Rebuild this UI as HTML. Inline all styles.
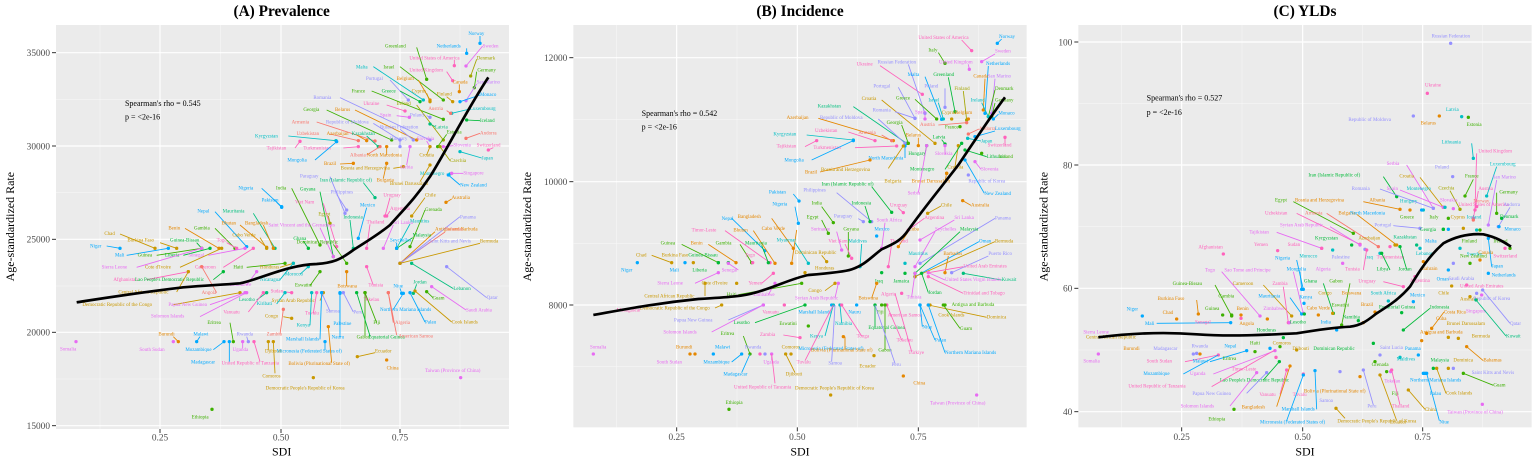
<!DOCTYPE html>
<html><head><meta charset="utf-8"><style>
html,body{margin:0;padding:0;background:#fff;}
svg{display:block;font-family:"Liberation Serif",serif;}
.lb text{font-size:15px;stroke:none;}
.lb path{fill:none;stroke-width:2.6;}
.lb circle{stroke:none;}
.c1{fill:#F8766D;stroke:#F8766D}.c2{fill:#E58700;stroke:#E58700}.c3{fill:#C99800;stroke:#C99800}
.c4{fill:#A3A500;stroke:#A3A500}.c5{fill:#3DB000;stroke:#3DB000}.c6{fill:#00BA38;stroke:#00BA38}
.c7{fill:#00BF7D;stroke:#00BF7D}.c8{fill:#00BFC4;stroke:#00BFC4}.c9{fill:#00A9FF;stroke:#00A9FF}
.c11{fill:#9590FF;stroke:#9590FF}.c12{fill:#C77CFF;stroke:#C77CFF}.c13{fill:#E76BF3;stroke:#E76BF3}
.c14{fill:#FF62BC;stroke:#FF62BC}
.tk{font-size:28px;fill:#4d4d4d;}
.ax{font-size:36px;fill:#000;}
.ti{font-size:46px;font-weight:bold;fill:#000;}
.sp{font-size:24px;fill:#000;}
.mj{stroke:#fff;stroke-width:3.5;}
.mn{stroke:#f7f7f7;stroke-width:1.8;}
.cv{fill:none;stroke:#000;stroke-width:8;stroke-linejoin:round;}
</style></head><body>
<svg width="1535" height="459" viewBox="0 0 1535 459" xmlns="http://www.w3.org/2000/svg">
<rect width="1535" height="459" fill="#fff"/>

<!-- PANEL A -->
<g transform="scale(0.33333)">
<rect x="168" y="75" width="1359" height="1212" fill="#ebebeb"/>
<g class="mn"><line x1="168" x2="1527" y1="298" y2="298"/><line x1="168" x2="1527" y1="578" y2="578"/><line x1="168" x2="1527" y1="858" y2="858"/><line x1="168" x2="1527" y1="1137" y2="1137"/>
<line y1="75" y2="1287" x1="300" x2="300"/><line y1="75" y2="1287" x1="662" x2="662"/><line y1="75" y2="1287" x1="1022" x2="1022"/><line y1="75" y2="1287" x1="1380" x2="1380"/></g>
<g class="mj"><line x1="168" x2="1527" y1="158" y2="158"/><line x1="168" x2="1527" y1="438" y2="438"/><line x1="168" x2="1527" y1="718" y2="718"/><line x1="168" x2="1527" y1="997" y2="997"/><line x1="168" x2="1527" y1="1277" y2="1277"/>
<line y1="75" y2="1287" x1="480" x2="480"/><line y1="75" y2="1287" x1="843" x2="843"/><line y1="75" y2="1287" x1="1200" x2="1200"/></g>
<g stroke="#333" stroke-width="3"><line x1="156" x2="168" y1="158" y2="158"/><line x1="156" x2="168" y1="438" y2="438"/><line x1="156" x2="168" y1="718" y2="718"/><line x1="156" x2="168" y1="997" y2="997"/><line x1="156" x2="168" y1="1277" y2="1277"/>
<line x1="480" x2="480" y1="1287" y2="1299"/><line x1="843" x2="843" y1="1287" y2="1299"/><line x1="1200" x2="1200" y1="1287" y2="1299"/></g>
<g class="tk" text-anchor="end"><text x="150" y="168">35000</text><text x="150" y="448">30000</text><text x="150" y="728">25000</text><text x="150" y="1007">20000</text><text x="150" y="1287">15000</text></g>
<g class="tk" text-anchor="middle"><text x="480" y="1322">0.25</text><text x="843" y="1322">0.50</text><text x="1200" y="1322">0.75</text></g>
<text class="ax" x="845" y="1366" text-anchor="middle">SDI</text>
<text class="ax" transform="translate(42,680) rotate(-90)" text-anchor="middle">Age-standardized Rate</text>
<text class="ti" x="845" y="48" text-anchor="middle">(A) Prevalence</text>
<text class="sp" x="375" y="318">Spearman's rho = 0.545</text>
<text class="sp" x="375" y="358">p = &lt;2e-16</text>
<g class="lb">
<g class="c9"><text x="1405" y="105">Norway</text><path d="M1440 108L1440 130"/><circle cx="1440" cy="130" r="5"/></g>
<g class="c9"><text x="1310" y="142">Netherlands</text><path d="M1400 145L1400 160"/><circle cx="1400" cy="160" r="5"/></g>
<g class="c13"><text x="1448" y="142">Sweden</text><path d="M1448 138L1398 198"/><circle cx="1398" cy="198" r="5"/></g>
<g class="c5"><text x="1155" y="142">Greenland</text><path d="M1250 142L1280 238"/><circle cx="1280" cy="238" r="5"/></g>
<g class="c14"><text x="1228" y="178">United States of America</text><path d="M1363 180L1363 197"/><circle cx="1363" cy="197" r="5"/></g>
<g class="c4"><text x="1430" y="178">Denmark</text><path d="M1430 178L1412 228"/><circle cx="1412" cy="228" r="5"/></g>
<g class="c8"><text x="1068" y="205">Malta</text><path d="M1120 200L1270 300"/><circle cx="1270" cy="300" r="5"/></g>
<g class="c5"><text x="1150" y="205">Israel</text><path d="M1200 200L1330 300"/><circle cx="1330" cy="300" r="5"/></g>
<g class="c14"><text x="1228" y="215">United Kingdom</text><path d="M1340 215L1358 242"/><circle cx="1358" cy="242" r="5"/></g>
<g class="c5"><text x="1432" y="215">Germany</text><path d="M1430 215L1423 263"/><circle cx="1423" cy="263" r="5"/></g>
<g class="c11"><text x="1098" y="240">Portugal</text><path d="M1170 240L1225 300"/><circle cx="1225" cy="300" r="5"/></g>
<g class="c2"><text x="1190" y="240">Belgium</text><path d="M1255 240L1290 300"/><circle cx="1290" cy="300" r="5"/></g>
<g class="c2"><text x="1358" y="250">Canada</text><path d="M1378 253L1378 275"/><circle cx="1378" cy="275" r="5"/></g>
<g class="c12"><text x="1430" y="250">San Marino</text><path d="M1430 252L1398 302"/><circle cx="1398" cy="302" r="5"/></g>
<g class="c5"><text x="1055" y="277">France</text><path d="M1115 273L1330 358"/><circle cx="1330" cy="358" r="5"/></g>
<g class="c6"><text x="1145" y="277">Greece</text><path d="M1200 273L1260 305"/><circle cx="1260" cy="305" r="5"/></g>
<g class="c3"><text x="1235" y="277">Cyprus</text><path d="M1280 280L1290 305"/><circle cx="1290" cy="305" r="5"/></g>
<g class="c3"><text x="1310" y="287">Finland</text><path d="M1340 290L1358 305"/><circle cx="1358" cy="305" r="5"/></g>
<g class="c9"><text x="1440" y="288">Monaco</text><path d="M1440 285L1380 305"/><circle cx="1380" cy="305" r="5"/></g>
<g class="c11"><text x="940" y="297">Romania</text><path d="M1020 293L1290 420"/><circle cx="1290" cy="420" r="5"/></g>
<g class="c14"><text x="1090" y="315">Ukraine</text><path d="M1160 315L1215 333"/><circle cx="1215" cy="333" r="5"/></g>
<g class="c4"><text x="1190" y="315">Ireland</text><path d="M1250 315L1330 420"/><circle cx="1330" cy="420" r="5"/></g>
<g class="c8"><text x="1410" y="330">Luxembourg</text><path d="M1410 327L1355 340"/><circle cx="1355" cy="340" r="5"/></g>
<g class="c5"><text x="910" y="333">Georgia</text><path d="M980 330L1175 420"/><circle cx="1175" cy="420" r="5"/></g>
<g class="c2"><text x="1005" y="333">Belarus</text><path d="M1065 330L1250 420"/><circle cx="1250" cy="420" r="5"/></g>
<g class="c13"><text x="1140" y="350">Spain</text><path d="M1190 347L1228 352"/><circle cx="1228" cy="352" r="5"/></g>
<g class="c11"><text x="1230" y="350">Poland</text><path d="M1280 347L1290 352"/><circle cx="1290" cy="352" r="5"/></g>
<g class="c1"><text x="1285" y="330">Austria</text><path d="M1340 332L1352 340"/><circle cx="1352" cy="340" r="5"/></g>
<g class="c6"><text x="1440" y="366">Iceland</text><path d="M1440 362L1400 360"/><circle cx="1400" cy="360" r="5"/></g>
<g class="c1"><text x="875" y="370">Armenia</text><path d="M950 366L1125 423"/><circle cx="1125" cy="423" r="5"/></g>
<g class="c11"><text x="978" y="370">Republic of Moldova</text><path d="M1120 370L1200 420"/><circle cx="1200" cy="420" r="5"/></g>
<g class="c11"><text x="1140" y="385">Russian Federation</text><path d="M1200 388L1240 420"/><circle cx="1240" cy="420" r="5"/></g>
<g class="c7"><text x="1305" y="385">Latvia</text><path d="M1305 380L1290 372"/><circle cx="1290" cy="372" r="5"/></g>
<g class="c8"><text x="765" y="412">Kyrgyzstan</text><path d="M865 408L1008 422"/><circle cx="1008" cy="422" r="5"/></g>
<g class="c1"><text x="890" y="405">Uzbekistan</text><path d="M990 402L1075 422"/><circle cx="1075" cy="422" r="5"/></g>
<g class="c2"><text x="980" y="405">Azerbaijan</text><path d="M1070 405L1100 422"/><circle cx="1100" cy="422" r="5"/></g>
<g class="c7"><text x="1055" y="405">Kazakhstan</text><path d="M1100 408L1135 440"/><circle cx="1135" cy="440" r="5"/></g>
<g class="c11"><text x="1170" y="420">Hungary</text><path d="M1200 423L1200 440"/><circle cx="1200" cy="440" r="5"/></g>
<g class="c13"><text x="1250" y="420">Slovakia</text><path d="M1280 423L1290 440"/><circle cx="1290" cy="440" r="5"/></g>
<g class="c5"><text x="1340" y="400">Estonia</text><path d="M1340 403L1313 440"/><circle cx="1313" cy="440" r="5"/></g>
<g class="c1"><text x="1440" y="403">Andorra</text><path d="M1440 400L1398 415"/><circle cx="1398" cy="415" r="5"/></g>
<g class="c14"><text x="800" y="448">Tajikistan</text><path d="M885 444L900 424"/><circle cx="900" cy="424" r="5"/></g>
<g class="c14"><text x="910" y="448">Turkmenistan</text><path d="M1030 444L1075 440"/><circle cx="1075" cy="440" r="5"/></g>
<g class="c13"><text x="1360" y="440">Slovenia</text><path d="M1360 437L1330 440"/><circle cx="1330" cy="440" r="5"/></g>
<g class="c14"><text x="1430" y="440">Switzerland</text><path d="M1480 443L1465 450"/><circle cx="1465" cy="450" r="5"/></g>
<g class="c9"><text x="862" y="485">Mongolia</text><path d="M945 480L1010 425"/><circle cx="1010" cy="425" r="5"/></g>
<g class="c1"><text x="1050" y="469">Albania</text><path d="M1100 465L1140 440"/><circle cx="1140" cy="440" r="5"/></g>
<g class="c2"><text x="1100" y="469">North Macedonia</text><path d="M1160 465L1160 440"/><circle cx="1160" cy="440" r="5"/></g>
<g class="c3"><text x="1258" y="469">Croatia</text><path d="M1280 465L1290 440"/><circle cx="1290" cy="440" r="5"/></g>
<g class="c4"><text x="1350" y="486">Czechia</text><path d="M1350 482L1320 440"/><circle cx="1320" cy="440" r="5"/></g>
<g class="c8"><text x="1445" y="478">Japan</text><path d="M1445 474L1380 455"/><circle cx="1380" cy="455" r="5"/></g>
<g class="c2"><text x="972" y="495">Brazil</text><path d="M1020 492L1060 490"/><circle cx="1060" cy="490" r="5"/></g>
<g class="c3"><text x="1022" y="508">Bosnia and Herzegovina</text><path d="M1180 505L1210 500"/><circle cx="1210" cy="500" r="5"/></g>
<g class="c13"><text x="1200" y="505">Serbia</text><path d="M1220 495L1230 440"/><circle cx="1230" cy="440" r="5"/></g>
<g class="c11"><text x="900" y="532">Paraguay</text><path d="M990 530L1035 640"/><circle cx="1035" cy="640" r="5"/></g>
<g class="c8"><text x="1260" y="525">Montenegro</text><path d="M1340 522L1350 522"/><circle cx="1350" cy="522" r="5"/></g>
<g class="c13"><text x="1390" y="523">Singapore</text><path d="M1390 520L1355 520"/><circle cx="1355" cy="520" r="5"/></g>
<g class="c7"><text x="960" y="545">Iran (Islamic Republic of)</text><path d="M1090 548L1125 593"/><circle cx="1125" cy="593" r="5"/></g>
<g class="c2"><text x="1130" y="545">Bulgaria</text><path d="M1150 535L1160 490"/><circle cx="1160" cy="490" r="5"/></g>
<g class="c3"><text x="1170" y="555">Brunei Darussalam</text><path d="M1260 545L1290 495"/><circle cx="1290" cy="495" r="5"/></g>
<g class="c9"><text x="1380" y="560">New Zealand</text><path d="M1380 555L1345 525"/><circle cx="1345" cy="525" r="5"/></g>
<g class="c9"><text x="715" y="568">Nigeria</text><path d="M785 565L845 620"/><circle cx="845" cy="620" r="5"/></g>
<g class="c5"><text x="828" y="568">India</text><path d="M875 565L960 735"/><circle cx="960" cy="735" r="5"/></g>
<g class="c6"><text x="900" y="572">Guyana</text><path d="M960 575L1000 770"/><circle cx="1000" cy="770" r="5"/></g>
<g class="c11"><text x="992" y="580">Philippines</text><path d="M1010 583L1040 630"/><circle cx="1040" cy="630" r="5"/></g>
<g class="c14"><text x="1150" y="590">Uruguay</text><path d="M1170 593L1155 648"/><circle cx="1155" cy="648" r="5"/></g>
<g class="c3"><text x="1275" y="590">Chile</text><path d="M1275 593L1235 648"/><circle cx="1235" cy="648" r="5"/></g>
<g class="c2"><text x="1355" y="597">Australia</text><path d="M1355 597L1338 607"/><circle cx="1338" cy="607" r="5"/></g>
<g class="c9"><text x="785" y="605">Pakistan</text><path d="M830 607L845 622"/><circle cx="845" cy="622" r="5"/></g>
<g class="c14"><text x="885" y="610">Viet Nam</text><path d="M970 610L1010 740"/><circle cx="1010" cy="740" r="5"/></g>
<g class="c9"><text x="1080" y="620">Mexico</text><path d="M1100 623L1075 715"/><circle cx="1075" cy="715" r="5"/></g>
<g class="c9"><text x="592" y="638">Nepal</text><path d="M645 635L740 740"/><circle cx="740" cy="740" r="5"/></g>
<g class="c7"><text x="668" y="638">Mauritania</text><path d="M760 640L825 745"/><circle cx="825" cy="745" r="5"/></g>
<g class="c4"><text x="955" y="646">Egypt</text><path d="M985 648L990 670"/><circle cx="990" cy="670" r="5"/></g>
<g class="c7"><text x="1030" y="656">Indonesia</text><path d="M1050 660L1060 745"/><circle cx="1060" cy="745" r="5"/></g>
<g class="c14"><text x="1170" y="630">Argentina</text><path d="M1170 633L1160 648"/><circle cx="1160" cy="648" r="5"/></g>
<g class="c5"><text x="1275" y="633">Grenada</text><path d="M1275 630L1230 740"/><circle cx="1230" cy="740" r="5"/></g>
<g class="c11"><text x="1380" y="655">Panama</text><path d="M1380 650L1200 790"/><circle cx="1200" cy="790" r="5"/></g>
<g class="c2"><text x="665" y="673">Bhutan</text><path d="M720 675L800 742"/><circle cx="800" cy="742" r="5"/></g>
<g class="c2"><text x="735" y="673">Bangladesh</text><path d="M790 675L820 745"/><circle cx="820" cy="745" r="5"/></g>
<g class="c13"><text x="805" y="680">Saint Vincent and the Grenadines</text><path d="M960 683L1000 770"/><circle cx="1000" cy="770" r="5"/></g>
<g class="c14"><text x="1100" y="670">Thailand</text><path d="M1110 673L1100 745"/><circle cx="1100" cy="745" r="5"/></g>
<g class="c13"><text x="1180" y="672">Sri Lanka</text><path d="M1180 675L1150 745"/><circle cx="1150" cy="745" r="5"/></g>
<g class="c8"><text x="1230" y="668">Mauritius</text><path d="M1230 672L1190 745"/><circle cx="1190" cy="745" r="5"/></g>
<g class="c2"><text x="505" y="688">Benin</text><path d="M555 685L657 745"/><circle cx="657" cy="745" r="5"/></g>
<g class="c5"><text x="582" y="688">Gambia</text><path d="M645 685L705 745"/><circle cx="705" cy="745" r="5"/></g>
<g class="c3"><text x="313" y="705">Chad</text><path d="M360 702L465 745"/><circle cx="465" cy="745" r="5"/></g>
<g class="c2"><text x="1305" y="692">Antigua and Barbuda</text><path d="M1305 695L1200 790"/><circle cx="1200" cy="790" r="5"/></g>
<g class="c3"><text x="382" y="725">Burkina Faso</text><path d="M480 728L530 745"/><circle cx="530" cy="745" r="5"/></g>
<g class="c6"><text x="510" y="725">Guinea-Bissau</text><path d="M590 728L605 745"/><circle cx="605" cy="745" r="5"/></g>
<g class="c14"><text x="650" y="725">Togo</text><path d="M680 728L710 745"/><circle cx="710" cy="745" r="5"/></g>
<g class="c3"><text x="697" y="710">Cabo Verde</text><path d="M780 713L800 745"/><circle cx="800" cy="745" r="5"/></g>
<g class="c6"><text x="880" y="720">Ghana</text><path d="M910 723L925 745"/><circle cx="925" cy="745" r="5"/></g>
<g class="c6"><text x="1238" y="710">Malaysia</text><path d="M1238 713L1190 745"/><circle cx="1190" cy="745" r="5"/></g>
<g class="c1"><text x="1335" y="692">Bahamas</text><path d="M1335 696L1200 790"/><circle cx="1200" cy="790" r="5"/></g>
<g class="c11"><text x="1285" y="728">Saint Kitts and Nevis</text><path d="M1285 730L1200 790"/><circle cx="1200" cy="790" r="5"/></g>
<g class="c3"><text x="1440" y="728">Bermuda</text><path d="M1440 730L1200 790"/><circle cx="1200" cy="790" r="5"/></g>
<g class="c9"><text x="270" y="742">Niger</text><path d="M320 738L360 745"/><circle cx="360" cy="745" r="5"/></g>
<g class="c5"><text x="890" y="730">Dominican Republic</text><path d="M1000 733L1040 790"/><circle cx="1040" cy="790" r="5"/></g>
<g class="c9"><text x="1170" y="725">Seychelles</text><path d="M1190 728L1190 745"/><circle cx="1190" cy="745" r="5"/></g>
<g class="c9"><text x="345" y="770">Mali</text><path d="M380 766L505 745"/><circle cx="505" cy="745" r="5"/></g>
<g class="c5"><text x="413" y="770">Guinea</text><path d="M470 766L605 745"/><circle cx="605" cy="745" r="5"/></g>
<g class="c6"><text x="495" y="770">Liberia</text><path d="M550 766L630 745"/><circle cx="630" cy="745" r="5"/></g>
<g class="c13"><text x="565" y="770">Senegal</text><path d="M625 766L735 745"/><circle cx="735" cy="745" r="5"/></g>
<g class="c13"><text x="305" y="806">Sierra Leone</text><path d="M410 802L605 745"/><circle cx="605" cy="745" r="5"/></g>
<g class="c3"><text x="435" y="806">Cote d'Ivoire</text><path d="M540 802L665 745"/><circle cx="665" cy="745" r="5"/></g>
<g class="c14"><text x="585" y="806">Cameroon</text><path d="M670 802L760 745"/><circle cx="760" cy="745" r="5"/></g>
<g class="c5"><text x="700" y="806">Haiti</text><path d="M740 802L855 790"/><circle cx="855" cy="790" r="5"/></g>
<g class="c3"><text x="780" y="806">Honduras</text><path d="M840 802L880 790"/><circle cx="880" cy="790" r="5"/></g>
<g class="c14"><text x="340" y="843">Afghanistan</text><path d="M440 839L565 815"/><circle cx="565" cy="815" r="5"/></g>
<g class="c6"><text x="405" y="843">Lao People's Democratic Republic</text><path d="M640 839L670 815"/><circle cx="670" cy="815" r="5"/></g>
<g class="c8"><text x="780" y="843">Nicaragua</text><path d="M840 839L880 790"/><circle cx="880" cy="790" r="5"/></g>
<g class="c8"><text x="855" y="827">Morocco</text><path d="M900 823L925 800"/><circle cx="925" cy="800" r="5"/></g>
<g class="c3"><text x="355" y="880">Central African Republic</text><path d="M530 876L565 815"/><circle cx="565" cy="815" r="5"/></g>
<g class="c13"><text x="690" y="858">Zimbabwe</text><path d="M740 855L770 815"/><circle cx="770" cy="815" r="5"/></g>
<g class="c1"><text x="605" y="882">Angola</text><path d="M650 878L605 800"/><circle cx="605" cy="800" r="5"/></g>
<g class="c5"><text x="885" y="860">Eswatini</text><path d="M930 857L960 815"/><circle cx="960" cy="815" r="5"/></g>
<g class="c2"><text x="1012" y="862">Botswana</text><path d="M1040 858L1040 815"/><circle cx="1040" cy="815" r="5"/></g>
<g class="c14"><text x="1105" y="860">Tunisia</text><path d="M1120 856L1100 800"/><circle cx="1100" cy="800" r="5"/></g>
<g class="c9"><text x="1180" y="862">Niue</text><path d="M1200 865L1205 880"/><circle cx="1205" cy="880" r="5"/></g>
<g class="c7"><text x="1240" y="850">Jordan</text><path d="M1250 853L1240 880"/><circle cx="1240" cy="880" r="5"/></g>
<g class="c7"><text x="1360" y="870">Lebanon</text><path d="M1360 866L1235 790"/><circle cx="1235" cy="790" r="5"/></g>
<g class="c11"><text x="1460" y="897">Qatar</text><path d="M1460 893L1340 800"/><circle cx="1340" cy="800" r="5"/></g>
<g class="c3"><text x="247" y="918">Democratic Republic of the Congo</text><path d="M520 914L720 878"/><circle cx="720" cy="878" r="5"/></g>
<g class="c13"><text x="505" y="918">Papua New Guinea</text><path d="M630 914L735 878"/><circle cx="735" cy="878" r="5"/></g>
<g class="c7"><text x="717" y="903">Lesotho</text><path d="M770 900L800 878"/><circle cx="800" cy="878" r="5"/></g>
<g class="c14"><text x="812" y="878">Sudan</text><path d="M850 875L875 878"/><circle cx="875" cy="878" r="5"/></g>
<g class="c3"><text x="815" y="906">Syrian Arab Republic</text><path d="M960 902L970 878"/><circle cx="970" cy="878" r="5"/></g>
<g class="c14"><text x="1090" y="903">Tokelau</text><path d="M1100 900L1095 878"/><circle cx="1095" cy="878" r="5"/></g>
<g class="c9"><text x="1140" y="933">Northern Mariana Islands</text><path d="M1180 928L1210 880"/><circle cx="1210" cy="880" r="5"/></g>
<g class="c5"><text x="1297" y="898">Guam</text><path d="M1300 894L1280 875"/><circle cx="1280" cy="875" r="5"/></g>
<g class="c13"><text x="1398" y="935">Saudi Arabia</text><path d="M1398 930L1295 860"/><circle cx="1295" cy="860" r="5"/></g>
<g class="c13"><text x="453" y="953">Solomon Islands</text><path d="M600 950L740 878"/><circle cx="740" cy="878" r="5"/></g>
<g class="c14"><text x="670" y="940">Vanuatu</text><path d="M745 936L790 878"/><circle cx="790" cy="878" r="5"/></g>
<g class="c8"><text x="770" y="915">Kiribati</text><path d="M830 912L855 878"/><circle cx="855" cy="878" r="5"/></g>
<g class="c14"><text x="915" y="944">Tuvalu</text><path d="M940 940L950 878"/><circle cx="950" cy="878" r="5"/></g>
<g class="c11"><text x="978" y="938">Samoa</text><path d="M990 934L965 878"/><circle cx="965" cy="878" r="5"/></g>
<g class="c11"><text x="1060" y="940">Peru</text><path d="M1060 936L1030 878"/><circle cx="1030" cy="878" r="5"/></g>
<g class="c5"><text x="1120" y="972">Fiji</text><path d="M1130 968L1095 878"/><circle cx="1095" cy="878" r="5"/></g>
<g class="c1"><text x="1185" y="972">Algeria</text><path d="M1180 968L1165 878"/><circle cx="1165" cy="878" r="5"/></g>
<g class="c9"><text x="1275" y="970">Palau</text><path d="M1275 966L1230 878"/><circle cx="1230" cy="878" r="5"/></g>
<g class="c3"><text x="1355" y="970">Cook Islands</text><path d="M1355 966L1245 873"/><circle cx="1245" cy="873" r="5"/></g>
<g class="c3"><text x="795" y="953">Congo</text><path d="M850 950L875 955"/><circle cx="875" cy="955" r="5"/></g>
<g class="c8"><text x="890" y="980">Kenya</text><path d="M930 976L935 878"/><circle cx="935" cy="878" r="5"/></g>
<g class="c9"><text x="1000" y="975">Palestine</text><path d="M1020 971L1020 878"/><circle cx="1020" cy="878" r="5"/></g>
<g class="c5"><text x="622" y="972">Eritrea</text><path d="M690 968L700 1025"/><circle cx="700" cy="1025" r="5"/></g>
<g class="c2"><text x="475" y="1007">Burundi</text><path d="M520 1010L535 1025"/><circle cx="535" cy="1025" r="5"/></g>
<g class="c9"><text x="580" y="1007">Malawi</text><path d="M600 1010L590 1025"/><circle cx="590" cy="1025" r="5"/></g>
<g class="c11"><text x="710" y="1007">Rwanda</text><path d="M740 1010L745 1025"/><circle cx="745" cy="1025" r="5"/></g>
<g class="c1"><text x="800" y="1007">Zambia</text><path d="M840 1003L850 928"/><circle cx="850" cy="928" r="5"/></g>
<g class="c9"><text x="858" y="1022">Marshall Islands</text><path d="M960 1018L965 878"/><circle cx="965" cy="878" r="5"/></g>
<g class="c9"><text x="995" y="1015">Nauru</text><path d="M1020 1011L1020 880"/><circle cx="1020" cy="880" r="5"/></g>
<g class="c5"><text x="1070" y="1015">Gabon</text><path d="M1095 1008L1095 878"/><circle cx="1095" cy="878" r="5"/></g>
<g class="c6"><text x="1105" y="1015">Equatorial Guinea</text><path d="M1110 1008L1070 878"/><circle cx="1070" cy="878" r="5"/></g>
<g class="c1"><text x="1195" y="1012">American Samoa</text><path d="M1190 1005L1165 878"/><circle cx="1165" cy="878" r="5"/></g>
<g class="c13"><text x="180" y="1052">Somalia</text><circle cx="228" cy="1025" r="5"/></g>
<g class="c13"><text x="418" y="1053">South Sudan</text><circle cx="520" cy="1025" r="5"/></g>
<g class="c9"><text x="556" y="1053">Mozambique</text><path d="M640 1049L672 1025"/><circle cx="672" cy="1025" r="5"/></g>
<g class="c13"><text x="698" y="1053">Uganda</text><path d="M728 1045L728 1025"/><circle cx="728" cy="1025" r="5"/></g>
<g class="c3"><text x="795" y="1058">Djibouti</text><path d="M805 1050L805 1025"/><circle cx="805" cy="1025" r="5"/></g>
<g class="c9"><text x="830" y="1058">Micronesia (Federated States of)</text><path d="M975 1050L975 1025"/><circle cx="975" cy="1025" r="5"/></g>
<g class="c3"><text x="1125" y="1058">Ecuador</text><path d="M1125 1058L1072 1070"/><circle cx="1072" cy="1070" r="5"/></g>
<g class="c9"><text x="573" y="1090">Madagascar</text><path d="M688 1085L688 1025"/><circle cx="688" cy="1025" r="5"/></g>
<g class="c14"><text x="665" y="1093">United Republic of Tanzania</text><path d="M780 1085L762 1025"/><circle cx="762" cy="1025" r="5"/></g>
<g class="c2"><text x="865" y="1095">Bolivia (Plurinational State of)</text><path d="M995 1088L985 980"/><circle cx="985" cy="980" r="5"/></g>
<g class="c2"><text x="1160" y="1108">China</text><circle cx="1160" cy="1080" r="5"/></g>
<g class="c13"><text x="1275" y="1116">Taiwan (Province of China)</text><circle cx="1382" cy="1133" r="5"/></g>
<g class="c3"><text x="787" y="1132">Comoros</text><path d="M825 1120L820 1025"/><circle cx="820" cy="1025" r="5"/></g>
<g class="c3"><text x="797" y="1168">Democratic People's Republic of Korea</text><circle cx="940" cy="1133" r="5"/></g>
<g class="c5"><text x="575" y="1256">Ethiopia</text><circle cx="636" cy="1228" r="5"/></g>
</g>
<path class="cv" d="M230 907 C320 893 400 880 550 862 C620 856 660 855 720 850 C780 838 860 795 950 792 C1000 788 1020 780 1060 750 C1110 718 1140 700 1170 675 C1210 630 1250 590 1290 530 C1340 450 1400 330 1465 232"/>
</g>

<!-- PANEL B -->
<g transform="translate(515,0) scale(0.33333)">
<rect x="175" y="75" width="1360" height="1207" fill="#ebebeb"/>
<g class="mn"><line x1="175" x2="1535" y1="359" y2="359"/><line x1="175" x2="1535" y1="730" y2="730"/><line x1="175" x2="1535" y1="1100" y2="1100"/>
<line y1="75" y2="1282" x1="305" x2="305"/><line y1="75" y2="1282" x1="666" x2="666"/><line y1="75" y2="1282" x1="1028" x2="1028"/><line y1="75" y2="1282" x1="1390" x2="1390"/></g>
<g class="mj"><line x1="175" x2="1535" y1="173" y2="173"/><line x1="175" x2="1535" y1="545" y2="545"/><line x1="175" x2="1535" y1="915" y2="915"/>
<line y1="75" y2="1282" x1="485" x2="485"/><line y1="75" y2="1282" x1="847" x2="847"/><line y1="75" y2="1282" x1="1210" x2="1210"/></g>
<g stroke="#333" stroke-width="3"><line x1="163" x2="175" y1="173" y2="173"/><line x1="163" x2="175" y1="545" y2="545"/><line x1="163" x2="175" y1="915" y2="915"/>
<line x1="485" x2="485" y1="1282" y2="1294"/><line x1="847" x2="847" y1="1282" y2="1294"/><line x1="1210" x2="1210" y1="1282" y2="1294"/></g>
<g class="tk" text-anchor="end"><text x="157" y="183">12000</text><text x="157" y="555">10000</text><text x="157" y="925">8000</text></g>
<g class="tk" text-anchor="middle"><text x="485" y="1320">0.25</text><text x="847" y="1320">0.50</text><text x="1210" y="1320">0.75</text></g>
<text class="ax" x="855" y="1366" text-anchor="middle">SDI</text>
<text class="ax" transform="translate(48,680) rotate(-90)" text-anchor="middle">Age-standardized Rate</text>
<text class="ti" x="855" y="48" text-anchor="middle">(B) Incidence</text>
<text class="sp" x="380" y="348">Spearman's rho = 0.542</text>
<text class="sp" x="380" y="388">p = &lt;2e-16</text>
<g class="lb">
<g class="c14"><text x="1210" y="117">United States of America</text><path d="M1340 120L1370 152"/><circle cx="1370" cy="152" r="5"/></g>
<g class="c9"><text x="1452" y="114">Norway</text><path d="M1460 117L1447 130"/><circle cx="1447" cy="130" r="5"/></g>
<g class="c5"><text x="1240" y="155">Italy</text><path d="M1270 158L1290 190"/><circle cx="1290" cy="190" r="5"/></g>
<g class="c13"><text x="1440" y="158">Sweden</text><path d="M1440 162L1400 185"/><circle cx="1400" cy="185" r="5"/></g>
<g class="c14"><text x="1025" y="197">Ukraine</text><path d="M1095 197L1222 283"/><circle cx="1222" cy="283" r="5"/></g>
<g class="c11"><text x="1088" y="190">Russian Federation</text><path d="M1180 193L1230 340"/><circle cx="1230" cy="340" r="5"/></g>
<g class="c13"><text x="1272" y="190">United Kingdom</text><path d="M1360 193L1363 208"/><circle cx="1363" cy="208" r="5"/></g>
<g class="c9"><text x="1413" y="195">Netherlands</text><path d="M1420 198L1410 340"/><circle cx="1410" cy="340" r="5"/></g>
<g class="c9"><text x="1178" y="228">Malta</text><path d="M1230 230L1280 358"/><circle cx="1280" cy="358" r="5"/></g>
<g class="c6"><text x="1255" y="228">Greenland</text><path d="M1300 232L1320 335"/><circle cx="1320" cy="335" r="5"/></g>
<g class="c2"><text x="1375" y="232">Canada</text><path d="M1410 236L1405 330"/><circle cx="1405" cy="330" r="5"/></g>
<g class="c12"><text x="1418" y="232">San Marino</text><path d="M1440 236L1430 340"/><circle cx="1430" cy="340" r="5"/></g>
<g class="c11"><text x="1075" y="262">Portugal</text><path d="M1150 262L1200 355"/><circle cx="1200" cy="355" r="5"/></g>
<g class="c11"><text x="1228" y="262">Poland</text><path d="M1290 265L1290 322"/><circle cx="1290" cy="322" r="5"/></g>
<g class="c4"><text x="1318" y="270">Finland</text><path d="M1345 273L1355 360"/><circle cx="1355" cy="360" r="5"/></g>
<g class="c5"><text x="1440" y="270">Denmark</text><path d="M1440 270L1420 350"/><circle cx="1420" cy="350" r="5"/></g>
<g class="c3"><text x="1040" y="300">Croatia</text><path d="M1100 300L1260 430"/><circle cx="1260" cy="430" r="5"/></g>
<g class="c5"><text x="1143" y="298">Greece</text><path d="M1200 298L1265 357"/><circle cx="1265" cy="357" r="5"/></g>
<g class="c8"><text x="1240" y="304">Israel</text><path d="M1270 308L1285 357"/><circle cx="1285" cy="357" r="5"/></g>
<g class="c8"><text x="1367" y="304">Ireland</text><path d="M1400 308L1420 350"/><circle cx="1420" cy="350" r="5"/></g>
<g class="c5"><text x="1440" y="305">Germany</text><path d="M1440 309L1430 350"/><circle cx="1430" cy="350" r="5"/></g>
<g class="c7"><text x="908" y="322">Kazakhstan</text><path d="M1015 320L1175 430"/><circle cx="1175" cy="430" r="5"/></g>
<g class="c11"><text x="1073" y="335">Romania</text><path d="M1140 335L1200 355"/><circle cx="1200" cy="355" r="5"/></g>
<g class="c13"><text x="1200" y="340">Spain</text><path d="M1230 343L1230 357"/><circle cx="1230" cy="357" r="5"/></g>
<g class="c3"><text x="1280" y="342">Cyprus</text><circle cx="1310" cy="357" r="5"/></g>
<g class="c2"><text x="1320" y="342">Belgium</text><circle cx="1360" cy="357" r="5"/></g>
<g class="c9"><text x="1450" y="343">Monaco</text><path d="M1450 343L1435 357"/><circle cx="1435" cy="357" r="5"/></g>
<g class="c2"><text x="815" y="357">Azerbaijan</text><path d="M910 355L1135 422"/><circle cx="1135" cy="422" r="5"/></g>
<g class="c11"><text x="915" y="357">Republic of Moldova</text><path d="M1090 357L1170 430"/><circle cx="1170" cy="430" r="5"/></g>
<g class="c5"><text x="1115" y="372">Georgia</text><path d="M1160 375L1180 430"/><circle cx="1180" cy="430" r="5"/></g>
<g class="c1"><text x="1215" y="378">Austria</text><path d="M1270 375L1355 368"/><circle cx="1355" cy="368" r="5"/></g>
<g class="c5"><text x="1290" y="385">France</text><circle cx="1335" cy="380" r="5"/></g>
<g class="c1"><text x="1392" y="390">Andorra</text><path d="M1392 387L1360 402"/><circle cx="1360" cy="402" r="5"/></g>
<g class="c9"><text x="1440" y="390">Luxembourg</text><path d="M1440 393L1380 410"/><circle cx="1380" cy="410" r="5"/></g>
<g class="c14"><text x="900" y="396">Uzbekistan</text><path d="M1000 396L1080 422"/><circle cx="1080" cy="422" r="5"/></g>
<g class="c1"><text x="1030" y="402">Armenia</text><path d="M1100 405L1130 422"/><circle cx="1130" cy="422" r="5"/></g>
<g class="c2"><text x="1172" y="410">Belarus</text><path d="M1210 413L1210 437"/><circle cx="1210" cy="437" r="5"/></g>
<g class="c6"><text x="1253" y="416">Latvia</text><path d="M1280 419L1290 432"/><circle cx="1290" cy="432" r="5"/></g>
<g class="c8"><text x="1398" y="427">Japan</text><path d="M1398 423L1358 415"/><circle cx="1358" cy="415" r="5"/></g>
<g class="c8"><text x="775" y="407">Kyrgyzstan</text><path d="M875 405L1015 420"/><circle cx="1015" cy="420" r="5"/></g>
<g class="c14"><text x="785" y="443">Tajikistan</text><path d="M870 440L905 422"/><circle cx="905" cy="422" r="5"/></g>
<g class="c14"><text x="895" y="447">Turkmenistan</text><path d="M1020 443L1145 438"/><circle cx="1145" cy="438" r="5"/></g>
<g class="c6"><text x="1415" y="474">Lithuania</text><path d="M1415 470L1350 450"/><circle cx="1350" cy="450" r="5"/></g>
<g class="c14"><text x="1418" y="440">Switzerland</text><path d="M1470 436L1470 412"/><circle cx="1470" cy="412" r="5"/></g>
<g class="c5"><text x="1450" y="474">Iceland</text><circle cx="1400" cy="460" r="5"/></g>
<g class="c9"><text x="1060" y="478">North Macedonia</text><path d="M1170 474L1170 438"/><circle cx="1170" cy="438" r="5"/></g>
<g class="c6"><text x="1180" y="465">Hungary</text><path d="M1230 462L1235 437"/><circle cx="1235" cy="437" r="5"/></g>
<g class="c13"><text x="1260" y="465">Slovakia</text><path d="M1290 462L1290 437"/><circle cx="1290" cy="437" r="5"/></g>
<g class="c3"><text x="1297" y="505">Czechia</text><path d="M1320 500L1330 437"/><circle cx="1330" cy="437" r="5"/></g>
<g class="c9"><text x="808" y="485">Mongolia</text><path d="M890 480L1015 422"/><circle cx="1015" cy="422" r="5"/></g>
<g class="c2"><text x="870" y="520">Brazil</text><path d="M915 516L1065 480"/><circle cx="1065" cy="480" r="5"/></g>
<g class="c3"><text x="918" y="513">Bosnia and Herzegovina</text><path d="M1120 505L1165 438"/><circle cx="1165" cy="438" r="5"/></g>
<g class="c6"><text x="1185" y="512">Montenegro</text><path d="M1290 508L1340 430"/><circle cx="1340" cy="430" r="5"/></g>
<g class="c13"><text x="1398" y="512">Slovenia</text><path d="M1398 508L1380 485"/><circle cx="1380" cy="485" r="5"/></g>
<g class="c3"><text x="1108" y="548">Bulgaria</text><circle cx="1295" cy="520" r="5"/></g>
<g class="c2"><text x="1190" y="548">Brunei Darussalam</text><path d="M1290 544L1295 520"/><circle cx="1295" cy="520" r="5"/></g>
<g class="c11"><text x="1360" y="548">Republic of Korea</text><circle cx="1360" cy="525" r="5"/></g>
<g class="c13"><text x="1178" y="584">Serbia</text><path d="M1210 578L1235 437"/><circle cx="1235" cy="437" r="5"/></g>
<g class="c9"><text x="1408" y="585">New Zealand</text><path d="M1408 580L1350 480"/><circle cx="1350" cy="480" r="5"/></g>
<g class="c6"><text x="920" y="557">Iran (Islamic Republic of)</text><path d="M1070 560L1130 637"/><circle cx="1130" cy="637" r="5"/></g>
<g class="c9"><text x="762" y="580">Pakistan</text><path d="M835 582L852 603"/><circle cx="852" cy="603" r="5"/></g>
<g class="c11"><text x="865" y="575">Philippines</text><path d="M965 578L1070 665"/><circle cx="1070" cy="665" r="5"/></g>
<g class="c9"><text x="772" y="617">Nigeria</text><path d="M840 620L850 670"/><circle cx="850" cy="670" r="5"/></g>
<g class="c5"><text x="890" y="614">India</text><path d="M920 620L955 668"/><circle cx="955" cy="668" r="5"/></g>
<g class="c6"><text x="1010" y="614">Indonesia</text><path d="M1050 618L1065 665"/><circle cx="1065" cy="665" r="5"/></g>
<g class="c14"><text x="1125" y="620">Uruguay</text><path d="M1150 624L1165 638"/><circle cx="1165" cy="638" r="5"/></g>
<g class="c3"><text x="1278" y="620">Chile</text><path d="M1278 618L1238 640"/><circle cx="1238" cy="640" r="5"/></g>
<g class="c2"><text x="1368" y="620">Australia</text><path d="M1368 616L1343 602"/><circle cx="1343" cy="602" r="5"/></g>
<g class="c9"><text x="620" y="660">Nepal</text><path d="M650 655L750 752"/><circle cx="750" cy="752" r="5"/></g>
<g class="c2"><text x="668" y="654">Bangladesh</text><path d="M770 655L835 745"/><circle cx="835" cy="745" r="5"/></g>
<g class="c5"><text x="875" y="656">Egypt</text><path d="M920 660L940 700"/><circle cx="940" cy="700" r="5"/></g>
<g class="c11"><text x="957" y="652">Paraguay</text><path d="M1030 656L1045 665"/><circle cx="1045" cy="665" r="5"/></g>
<g class="c13"><text x="1085" y="664">South Africa</text><path d="M1110 668L1100 745"/><circle cx="1100" cy="745" r="5"/></g>
<g class="c14"><text x="1228" y="657">Argentina</text><path d="M1228 655L1180 690"/><circle cx="1180" cy="690" r="5"/></g>
<g class="c13"><text x="1318" y="657">Sri Lanka</text><path d="M1318 660L1215 720"/><circle cx="1215" cy="720" r="5"/></g>
<g class="c11"><text x="1440" y="658">Panama</text><path d="M1440 655L1215 790"/><circle cx="1215" cy="790" r="5"/></g>
<g class="c14"><text x="530" y="695">Timor-Leste</text><path d="M630 692L765 788"/><circle cx="765" cy="788" r="5"/></g>
<g class="c2"><text x="655" y="695">Bhutan</text><path d="M715 692L780 790"/><circle cx="780" cy="790" r="5"/></g>
<g class="c2"><text x="740" y="690">Cabo Verde</text><path d="M845 690L830 790"/><circle cx="830" cy="790" r="5"/></g>
<g class="c13"><text x="888" y="692">Suriname</text><path d="M965 695L980 750"/><circle cx="980" cy="750" r="5"/></g>
<g class="c5"><text x="985" y="692">Guyana</text><path d="M1000 696L1000 768"/><circle cx="1000" cy="768" r="5"/></g>
<g class="c9"><text x="1078" y="692">Mexico</text><circle cx="1085" cy="708" r="5"/></g>
<g class="c2"><text x="1180" y="692">Cuba</text><path d="M1180 695L1150 740"/><circle cx="1150" cy="740" r="5"/></g>
<g class="c13"><text x="1260" y="692">Seychelles</text><path d="M1260 695L1200 800"/><circle cx="1200" cy="800" r="5"/></g>
<g class="c6"><text x="1335" y="692">Malaysia</text><path d="M1335 695L1200 820"/><circle cx="1200" cy="820" r="5"/></g>
<g class="c5"><text x="437" y="733">Guinea</text><path d="M500 733L610 788"/><circle cx="610" cy="788" r="5"/></g>
<g class="c2"><text x="527" y="733">Benin</text><path d="M580 733L663 788"/><circle cx="663" cy="788" r="5"/></g>
<g class="c5"><text x="602" y="733">Gambia</text><path d="M675 733L710 788"/><circle cx="710" cy="788" r="5"/></g>
<g class="c6"><text x="690" y="733">Mauritania</text><path d="M740 736L760 788"/><circle cx="760" cy="788" r="5"/></g>
<g class="c8"><text x="785" y="725">Myanmar</text><path d="M840 728L880 790"/><circle cx="880" cy="790" r="5"/></g>
<g class="c14"><text x="940" y="728">Viet Nam</text><path d="M990 732L1010 775"/><circle cx="1010" cy="775" r="5"/></g>
<g class="c8"><text x="1000" y="728">Maldives</text><path d="M1040 732L1035 800"/><circle cx="1035" cy="800" r="5"/></g>
<g class="c14"><text x="1125" y="728">Thailand</text><path d="M1130 732L1120 800"/><circle cx="1120" cy="800" r="5"/></g>
<g class="c9"><text x="1392" y="728">Oman</text><path d="M1392 725L1200 830"/><circle cx="1200" cy="830" r="5"/></g>
<g class="c3"><text x="1440" y="728">Bermuda</text><path d="M1440 725L1200 830"/><circle cx="1200" cy="830" r="5"/></g>
<g class="c3"><text x="363" y="769">Chad</text><path d="M410 766L470 788"/><circle cx="470" cy="788" r="5"/></g>
<g class="c3"><text x="440" y="769">Burkina Faso</text><circle cx="535" cy="788" r="5"/></g>
<g class="c6"><text x="520" y="769">Guinea-Bissau</text><circle cx="610" cy="788" r="5"/></g>
<g class="c14"><text x="690" y="769">Togo</text><circle cx="713" cy="788" r="5"/></g>
<g class="c3"><text x="840" y="762">Dominican Republic</text><path d="M920 766L935 785"/><circle cx="935" cy="785" r="5"/></g>
<g class="c8"><text x="1180" y="765">Mauritius</text><circle cx="1170" cy="790" r="5"/></g>
<g class="c2"><text x="1285" y="765">Barbados</text><path d="M1300 768L1290 818"/><circle cx="1290" cy="818" r="5"/></g>
<g class="c11"><text x="1420" y="765">Puerto Rico</text><path d="M1420 768L1310 818"/><circle cx="1310" cy="818" r="5"/></g>
<g class="c9"><text x="318" y="815">Niger</text><circle cx="367" cy="788" r="5"/></g>
<g class="c9"><text x="464" y="815">Mali</text><circle cx="510" cy="788" r="5"/></g>
<g class="c6"><text x="532" y="815">Liberia</text><circle cx="640" cy="788" r="5"/></g>
<g class="c13"><text x="620" y="815">Senegal</text><path d="M670 810L640 790"/><circle cx="640" cy="790" r="5"/></g>
<g class="c3"><text x="900" y="808">Honduras</text><circle cx="870" cy="818" r="5"/></g>
<g class="c6"><text x="1135" y="848">Jamaica</text><circle cx="1170" cy="820" r="5"/></g>
<g class="c14"><text x="1345" y="803">United Arab Emirates</text><path d="M1345 800L1240 818"/><circle cx="1240" cy="818" r="5"/></g>
<g class="c7"><text x="1460" y="843">Kuwait</text><path d="M1460 840L1345 820"/><circle cx="1345" cy="820" r="5"/></g>
<g class="c13"><text x="427" y="853">Sierra Leone</text><path d="M540 850L610 818"/><circle cx="610" cy="818" r="5"/></g>
<g class="c3"><text x="560" y="853">Cote d'Ivoire</text><circle cx="665" cy="850" r="5"/></g>
<g class="c14"><text x="700" y="853">Yemen</text><path d="M740 850L775 820"/><circle cx="775" cy="820" r="5"/></g>
<g class="c6"><text x="1080" y="848">Iraq</text><circle cx="1100" cy="818" r="5"/></g>
<g class="c13"><text x="1290" y="843">United States Virgin Islands</text><path d="M1290 840L1240 818"/><circle cx="1240" cy="818" r="5"/></g>
<g class="c3"><text x="388" y="892">Central African Republic</text><path d="M570 888L570 850"/><circle cx="570" cy="850" r="5"/></g>
<g class="c5"><text x="635" y="888">Haiti</text><path d="M670 884L860 850"/><circle cx="860" cy="850" r="5"/></g>
<g class="c13"><text x="715" y="888">Zimbabwe</text><path d="M760 884L780 850"/><circle cx="780" cy="850" r="5"/></g>
<g class="c3"><text x="880" y="876">Congo</text><path d="M930 872L960 850"/><circle cx="960" cy="850" r="5"/></g>
<g class="c14"><text x="1345" y="884">Trinidad and Tobago</text><path d="M1345 880L1240 830"/><circle cx="1240" cy="830" r="5"/></g>
<g class="c6"><text x="1240" y="882">Jordan</text><path d="M1240 878L1220 820"/><circle cx="1220" cy="820" r="5"/></g>
<g class="c14"><text x="1098" y="886">Algeria</text><circle cx="1160" cy="880" r="5"/></g>
<g class="c13"><text x="1175" y="896">Tunisia</text><path d="M1190 890L1200 820"/><circle cx="1200" cy="820" r="5"/></g>
<g class="c13"><text x="840" y="898">Syrian Arab Republic</text><path d="M960 894L970 850"/><circle cx="970" cy="850" r="5"/></g>
<g class="c2"><text x="1030" y="898">Botswana</text><path d="M1070 894L1085 850"/><circle cx="1085" cy="850" r="5"/></g>
<g class="c14"><text x="305" y="935">Madagascar</text></g>
<g class="c3"><text x="375" y="928">Democratic Republic of the Congo</text><path d="M600 924L620 915"/><circle cx="620" cy="915" r="5"/></g>
<g class="c5"><text x="1310" y="918">Antigua and Barbuda</text><circle cx="1290" cy="915" r="5"/></g>
<g class="c11"><text x="477" y="965">Papua New Guinea</text><path d="M640 960L745 915"/><circle cx="745" cy="915" r="5"/></g>
<g class="c14"><text x="742" y="940">Vanuatu</text><circle cx="808" cy="915" r="5"/></g>
<g class="c9"><text x="850" y="940">Marshall Islands</text><circle cx="950" cy="915" r="5"/></g>
<g class="c9"><text x="1000" y="940">Nauru</text><circle cx="1025" cy="915" r="5"/></g>
<g class="c5"><text x="1085" y="940">Fiji</text><circle cx="1100" cy="915" r="5"/></g>
<g class="c14"><text x="1118" y="950">American Samoa</text><circle cx="1115" cy="915" r="5"/></g>
<g class="c3"><text x="1270" y="950">Cook Islands</text><circle cx="1245" cy="915" r="5"/></g>
<g class="c3"><text x="1415" y="955">Dominica</text><path d="M1415 952L1240 915"/><circle cx="1240" cy="915" r="5"/></g>
<g class="c6"><text x="656" y="972">Lesotho</text><path d="M720 968L870 915"/><circle cx="870" cy="915" r="5"/></g>
<g class="c8"><text x="960" y="975">Namibia</text><path d="M980 968L975 915"/><circle cx="975" cy="915" r="5"/></g>
<g class="c13"><text x="445" y="1000">Solomon Islands</text><path d="M590 996L745 915"/><circle cx="745" cy="915" r="5"/></g>
<g class="c5"><text x="793" y="975">Eswatini</text><circle cx="880" cy="978" r="5"/></g>
<g class="c6"><text x="1060" y="987">Equatorial Guinea</text><path d="M1080 980L1080 915"/><circle cx="1080" cy="915" r="5"/></g>
<g class="c9"><text x="1222" y="985">Niue</text><path d="M1222 980L1215 915"/><circle cx="1215" cy="915" r="5"/></g>
<g class="c5"><text x="1335" y="990">Guam</text><path d="M1335 985L1285 915"/><circle cx="1285" cy="915" r="5"/></g>
<g class="c14"><text x="735" y="1008">Zambia</text><path d="M805 1005L855 1013"/><circle cx="855" cy="1013" r="5"/></g>
<g class="c8"><text x="885" y="1013">Kenya</text><path d="M930 1008L955 915"/><circle cx="955" cy="915" r="5"/></g>
<g class="c14"><text x="1025" y="1013">Tonga</text><path d="M1040 1008L980 915"/><circle cx="980" cy="915" r="5"/></g>
<g class="c14"><text x="1145" y="1025">Tokelau</text><path d="M1160 1020L1115 915"/><circle cx="1115" cy="915" r="5"/></g>
<g class="c9"><text x="1260" y="1025">Palau</text><path d="M1260 1020L1215 915"/><circle cx="1215" cy="915" r="5"/></g>
<g class="c5"><text x="617" y="1005">Eritrea</text><path d="M685 1008L705 1062"/><circle cx="705" cy="1062" r="5"/></g>
<g class="c13"><text x="225" y="1045">Somalia</text><circle cx="235" cy="1062" r="5"/></g>
<g class="c2"><text x="483" y="1045">Burundi</text><circle cx="525" cy="1062" r="5"/><circle cx="540" cy="1062" r="5"/></g>
<g class="c9"><text x="600" y="1045">Malawi</text><circle cx="595" cy="1062" r="5"/></g>
<g class="c11"><text x="690" y="1045">Rwanda</text><circle cx="750" cy="1062" r="5"/><circle cx="735" cy="1062" r="5" class="c14"/></g>
<g class="c3"><text x="800" y="1045">Comoros</text><circle cx="828" cy="1062" r="5"/><circle cx="812" cy="1062" r="5"/></g>
<g class="c9"><text x="850" y="1050">Micronesia (Federated States of)</text></g>
<g class="c5"><text x="1090" y="1055">Gabon</text><path d="M1110 1050L1110 915"/><circle cx="1110" cy="915" r="5"/></g>
<g class="c2"><text x="888" y="1055">Bolivia (Plurinational State of)</text><path d="M990 1010L990 1050"/><circle cx="985" cy="1010" r="5"/></g>
<g class="c14"><text x="1180" y="1062">Türkiye</text><path d="M1190 1055L1140 880"/></g>
<g class="c9"><text x="1290" y="1062">Northern Mariana Islands</text><path d="M1290 1058L1240 915"/><circle cx="1240" cy="915" r="5"/></g>
<g class="c13"><text x="425" y="1090">South Sudan</text></g>
<g class="c9"><text x="565" y="1090">Mozambique</text><path d="M650 1086L680 1062"/><circle cx="680" cy="1062" r="5"/></g>
<g class="c13"><text x="745" y="1090">Uganda</text><path d="M770 1082L770 1062"/><circle cx="770" cy="1062" r="5"/></g>
<g class="c14"><text x="845" y="1090">Tuvalu</text><path d="M870 1082L955 915"/></g>
<g class="c11"><text x="940" y="1093">Samoa</text><path d="M950 1085L960 915"/></g>
<g class="c3"><text x="1033" y="1102">Ecuador</text><circle cx="1077" cy="1067" r="5"/></g>
<g class="c11"><text x="1130" y="1098">Peru</text><path d="M1140 1090L1080 915"/></g>
<g class="c9"><text x="625" y="1127">Madagascar</text><path d="M680 1118L705 1062"/></g>
<g class="c3"><text x="812" y="1127">Djibouti</text><path d="M840 1118L812 1062"/></g>
<g class="c2"><text x="1195" y="1153">China</text><circle cx="1165" cy="1128" r="5"/></g>
<g class="c14"><text x="657" y="1165">United Republic of Tanzania</text><path d="M780 1150L770 1062"/></g>
<g class="c3"><text x="840" y="1168">Democratic People's Republic of Korea</text><circle cx="947" cy="1185" r="5"/></g>
<g class="c13"><text x="1245" y="1213">Taiwan (Province of China)</text><circle cx="1385" cy="1185" r="5"/></g>
<g class="c5"><text x="632" y="1212">Ethiopia</text><circle cx="642" cy="1228" r="5"/></g>
</g>
<path class="cv" d="M235 945 C330 928 420 910 550 897 C640 892 690 888 720 878 C780 862 830 835 880 825 C940 820 990 815 1010 808 C1050 795 1070 770 1100 748 C1140 730 1160 720 1180 690 C1230 620 1280 560 1330 495 C1380 420 1430 345 1470 292"/>
</g>

<!-- PANEL C -->
<g transform="translate(1030,0) scale(0.33333)">
<rect x="145" y="75" width="1360" height="1207" fill="#ebebeb"/>
<g class="mn"><line x1="145" x2="1505" y1="310" y2="310"/><line x1="145" x2="1505" y1="680" y2="680"/><line x1="145" x2="1505" y1="1050" y2="1050"/>
<line y1="75" y2="1282" x1="275" x2="275"/><line y1="75" y2="1282" x1="636" x2="636"/><line y1="75" y2="1282" x1="998" x2="998"/><line y1="75" y2="1282" x1="1358" x2="1358"/></g>
<g class="mj"><line x1="145" x2="1505" y1="126" y2="126"/><line x1="145" x2="1505" y1="495" y2="495"/><line x1="145" x2="1505" y1="865" y2="865"/><line x1="145" x2="1505" y1="1235" y2="1235"/>
<line y1="75" y2="1282" x1="455" x2="455"/><line y1="75" y2="1282" x1="818" x2="818"/><line y1="75" y2="1282" x1="1178" x2="1178"/></g>
<g stroke="#333" stroke-width="3"><line x1="133" x2="145" y1="126" y2="126"/><line x1="133" x2="145" y1="495" y2="495"/><line x1="133" x2="145" y1="865" y2="865"/><line x1="133" x2="145" y1="1235" y2="1235"/>
<line x1="455" x2="455" y1="1282" y2="1294"/><line x1="818" x2="818" y1="1282" y2="1294"/><line x1="1178" x2="1178" y1="1282" y2="1294"/></g>
<g class="tk" text-anchor="end"><text x="127" y="136">100</text><text x="127" y="505">80</text><text x="127" y="875">60</text><text x="127" y="1245">40</text></g>
<g class="tk" text-anchor="middle"><text x="455" y="1320">0.25</text><text x="818" y="1320">0.50</text><text x="1178" y="1320">0.75</text></g>
<text class="ax" x="825" y="1366" text-anchor="middle">SDI</text>
<text class="ax" transform="translate(52,680) rotate(-90)" text-anchor="middle">Age-standardized Rate</text>
<text class="ti" x="825" y="48" text-anchor="middle">(C) YLDs</text>
<text class="sp" x="350" y="302">Spearman's rho = 0.527</text>
<text class="sp" x="350" y="345">p = &lt;2e-16</text>
<g class="lb">
<g class="c11"><text x="1205" y="113">Russian Federation</text><circle cx="1262" cy="130" r="5"/></g>
<g class="c14"><text x="1185" y="260">Ukraine</text><circle cx="1192" cy="280" r="5"/></g>
<g class="c8"><text x="1248" y="333">Latvia</text><circle cx="1295" cy="350" r="5"/></g>
<g class="c11"><text x="955" y="363">Republic of Moldova</text><circle cx="1150" cy="348" r="5"/></g>
<g class="c2"><text x="1172" y="373">Belarus</text><circle cx="1228" cy="348" r="5"/></g>
<g class="c5"><text x="1310" y="378">Estonia</text><circle cx="1315" cy="352" r="5"/></g>
<g class="c8"><text x="1235" y="430">Lithuania</text><path d="M1325 430L1330 475"/><circle cx="1330" cy="475" r="5"/></g>
<g class="c14"><text x="1345" y="457">United Kingdom</text><path d="M1340 460L1335 630"/><circle cx="1335" cy="630" r="5"/></g>
<g class="c13"><text x="1070" y="495">Serbia</text><path d="M1130 495L1210 625"/><circle cx="1210" cy="625" r="5"/></g>
<g class="c11"><text x="1215" y="505">Poland</text><circle cx="1268" cy="530" r="5"/></g>
<g class="c8"><text x="1380" y="497">Luxembourg</text><path d="M1400 500L1370 588"/><circle cx="1370" cy="588" r="5"/></g>
<g class="c6"><text x="835" y="530">Iran (Islamic Republic of)</text><path d="M1060 530L1100 590"/><circle cx="1100" cy="590" r="5"/></g>
<g class="c3"><text x="1108" y="532">Croatia</text><path d="M1170 532L1240 622"/><circle cx="1240" cy="622" r="5"/></g>
<g class="c5"><text x="1305" y="532">France</text><path d="M1330 538L1305 588"/><circle cx="1305" cy="588" r="5"/></g>
<g class="c12"><text x="1388" y="535">San Marino</text><path d="M1400 540L1375 675"/><circle cx="1375" cy="675" r="5"/></g>
<g class="c11"><text x="965" y="570">Romania</text><path d="M1050 567L1210 625"/><circle cx="1210" cy="625" r="5"/></g>
<g class="c13"><text x="1070" y="570">Spain</text><path d="M1110 570L1240 622"/><circle cx="1240" cy="622" r="5"/></g>
<g class="c8"><text x="1130" y="570">Montenegro</text><circle cx="1245" cy="622" r="5"/></g>
<g class="c4"><text x="1225" y="568">Czechia</text><path d="M1260 572L1290 628"/><circle cx="1290" cy="628" r="5"/></g>
<g class="c14"><text x="1345" y="570">Austria</text><path d="M1345 573L1330 655"/><circle cx="1330" cy="655" r="5"/></g>
<g class="c5"><text x="1408" y="580">Germany</text><path d="M1400 578L1400 640"/><circle cx="1400" cy="640" r="5"/></g>
<g class="c5"><text x="735" y="605">Egypt</text><path d="M790 605L970 700"/><circle cx="970" cy="700" r="5"/></g>
<g class="c2"><text x="795" y="605">Bosnia and Herzegovina</text><path d="M1000 605L1110 628"/><circle cx="1110" cy="628" r="5"/></g>
<g class="c2"><text x="1018" y="605">Albania</text><circle cx="1140" cy="630" r="5"/></g>
<g class="c8"><text x="1110" y="608">Hungary</text><circle cx="1180" cy="630" r="5"/></g>
<g class="c13"><text x="1230" y="605">Slovakia</text><circle cx="1270" cy="626" r="5"/></g>
<g class="c1"><text x="1330" y="608">Norway</text><circle cx="1330" cy="660" r="5"/></g>
<g class="c14"><text x="1285" y="618">United States of America</text><circle cx="1340" cy="620" r="5"/></g>
<g class="c11"><text x="1420" y="618">Andorra</text><path d="M1440 622L1405 680"/><circle cx="1405" cy="680" r="5"/></g>
<g class="c14"><text x="705" y="643">Uzbekistan</text><path d="M800 640L990 733"/><circle cx="990" cy="733" r="5"/></g>
<g class="c1"><text x="825" y="643">Armenia</text><path d="M890 640L1045 740"/><circle cx="1045" cy="740" r="5"/></g>
<g class="c2"><text x="925" y="643">Bulgaria</text><path d="M980 643L1100 735"/><circle cx="1100" cy="735" r="5"/></g>
<g class="c9"><text x="960" y="643">North Macedonia</text><circle cx="1175" cy="630" r="5"/></g>
<g class="c5"><text x="1110" y="655">Greece</text><circle cx="1240" cy="688" r="5"/></g>
<g class="c5"><text x="1198" y="655">Italy</text><circle cx="1255" cy="655" r="5"/></g>
<g class="c3"><text x="1262" y="655">Cyprus</text><circle cx="1300" cy="685" r="5"/></g>
<g class="c8"><text x="1310" y="655">Iceland</text><circle cx="1340" cy="690" r="5"/></g>
<g class="c6"><text x="1410" y="654">Denmark</text><circle cx="1415" cy="655" r="5"/></g>
<g class="c13"><text x="750" y="680">Syrian Arab Republic</text><path d="M900 680L990 735"/><circle cx="990" cy="735" r="5"/></g>
<g class="c11"><text x="1033" y="680">Portugal</text><path d="M1090 677L1170 685"/><circle cx="1170" cy="685" r="5"/></g>
<g class="c6"><text x="1170" y="693">Georgia</text><circle cx="1240" cy="688" r="5"/></g>
<g class="c9"><text x="1423" y="692">Monaco</text><circle cx="1407" cy="680" r="5"/></g>
<g class="c13"><text x="658" y="700">Tajikistan</text><path d="M740 697L875 745"/><circle cx="875" cy="745" r="5"/></g>
<g class="c6"><text x="855" y="718">Kyrgyzstan</text><circle cx="965" cy="735" r="5"/></g>
<g class="c3"><text x="985" y="718">Azerbaijan</text><circle cx="1095" cy="735" r="5"/></g>
<g class="c7"><text x="1090" y="715">Kazakhstan</text><circle cx="1160" cy="735" r="5"/></g>
<g class="c9"><text x="1185" y="728">Malta</text><circle cx="1255" cy="688" r="5"/></g>
<g class="c5"><text x="1295" y="728">Finland</text><circle cx="1350" cy="690" r="5"/></g>
<g class="c5"><text x="1390" y="728">Ireland</text><circle cx="1440" cy="745" r="5"/></g>
<g class="c14"><text x="505" y="745">Afghanistan</text><circle cx="580" cy="762" r="5"/></g>
<g class="c14"><text x="672" y="738">Yemen</text><circle cx="743" cy="752" r="5"/></g>
<g class="c14"><text x="773" y="738">Sudan</text><circle cx="875" cy="745" r="5"/></g>
<g class="c8"><text x="1158" y="765">Lebanon</text><circle cx="1170" cy="745" r="5"/></g>
<g class="c9"><text x="735" y="778">Nigeria</text><path d="M800 780L820 868"/><circle cx="820" cy="868" r="5"/></g>
<g class="c8"><text x="808" y="773">Morocco</text><circle cx="908" cy="750" r="5"/></g>
<g class="c11"><text x="905" y="775">Palestine</text><circle cx="1005" cy="748" r="5"/></g>
<g class="c8"><text x="1005" y="775">Iraq</text><circle cx="1050" cy="760" r="5"/></g>
<g class="c14"><text x="1040" y="775">Turkmenistan</text><circle cx="1080" cy="740" r="5"/></g>
<g class="c8"><text x="1310" y="767">Sweden</text><circle cx="1290" cy="745" r="5"/></g>
<g class="c5"><text x="1290" y="772">New Zealand</text><circle cx="1320" cy="790" r="5"/></g>
<g class="c2"><text x="1345" y="762">Canada</text><circle cx="1350" cy="780" r="5"/></g>
<g class="c14"><text x="1390" y="772">Switzerland</text><circle cx="1425" cy="745" r="5"/></g>
<g class="c9"><text x="770" y="812">Mongolia</text><path d="M810 815L815 868"/><circle cx="815" cy="868" r="5"/></g>
<g class="c13"><text x="857" y="812">Algeria</text><circle cx="938" cy="790" r="5"/></g>
<g class="c14"><text x="945" y="812">Tunisia</text><path d="M1000 810L1010 750"/><circle cx="1010" cy="750" r="5"/></g>
<g class="c6"><text x="1040" y="812">Libya</text><path d="M1080 810L1055 760"/><circle cx="1055" cy="760" r="5"/></g>
<g class="c6"><text x="1105" y="812">Jordan</text><path d="M1130 808L1110 740"/><circle cx="1110" cy="740" r="5"/></g>
<g class="c2"><text x="1175" y="810">Bahrain</text><circle cx="1180" cy="785" r="5"/></g>
<g class="c9"><text x="1385" y="802">Japan</text><path d="M1385 800L1375 715"/><circle cx="1375" cy="715" r="5"/></g>
<g class="c13"><text x="525" y="815">Togo</text><path d="M575 815L690 948"/><circle cx="690" cy="948" r="5"/></g>
<g class="c13"><text x="583" y="815">Sao Tome and Principe</text><path d="M790 815L820 940"/><circle cx="820" cy="940" r="5"/></g>
<g class="c9"><text x="1220" y="842">Oman</text><circle cx="1255" cy="810" r="5"/></g>
<g class="c11"><text x="1255" y="840">Saudi Arabia</text><circle cx="1270" cy="790" r="5"/></g>
<g class="c9"><text x="1385" y="830">Netherlands</text><circle cx="1375" cy="820" r="5"/></g>
<g class="c5"><text x="428" y="855">Guinea-Bissau</text><path d="M555 855L605 948"/><circle cx="605" cy="948" r="5"/></g>
<g class="c3"><text x="608" y="855">Cameroon</text><path d="M700 855L785 948"/><circle cx="785" cy="948" r="5"/></g>
<g class="c14"><text x="727" y="855">Zambia</text><path d="M760 860L775 968"/><circle cx="775" cy="968" r="5"/></g>
<g class="c6"><text x="822" y="848">Ghana</text><path d="M880 850L910 940"/><circle cx="910" cy="940" r="5"/></g>
<g class="c5"><text x="898" y="848">Gabon</text><path d="M960 850L935 975"/><circle cx="935" cy="975" r="5"/></g>
<g class="c14"><text x="985" y="848">Uruguay</text><path d="M1060 845L1120 860"/><circle cx="1120" cy="860" r="5"/></g>
<g class="c14"><text x="1140" y="846">Argentina</text><circle cx="1155" cy="830" r="5"/></g>
<g class="c3"><text x="1225" y="884">Chile</text><circle cx="1265" cy="858" r="5"/></g>
<g class="c14"><text x="1290" y="862">United Arab Emirates</text><circle cx="1310" cy="855" r="5"/></g>
<g class="c2"><text x="383" y="900">Burkina Faso</text><path d="M500 900L505 942"/><circle cx="505" cy="942" r="5"/></g>
<g class="c5"><text x="565" y="893">Gambia</text><circle cx="605" cy="945" r="5"/></g>
<g class="c9"><text x="685" y="893">Mauritania</text><path d="M780 893L815 942"/><circle cx="815" cy="942" r="5"/></g>
<g class="c9"><text x="808" y="895">Kenya</text><circle cx="822" cy="910" r="5"/></g>
<g class="c3"><text x="865" y="883">Congo</text><circle cx="908" cy="940" r="5"/></g>
<g class="c2"><text x="935" y="883">Botswana</text><circle cx="1000" cy="968" r="5"/></g>
<g class="c8"><text x="1022" y="883">South Africa</text><circle cx="1075" cy="903" r="5"/></g>
<g class="c9"><text x="1140" y="890">Mexico</text><circle cx="1150" cy="905" r="5"/></g>
<g class="c3"><text x="1290" y="902">Australia</text><circle cx="1320" cy="890" r="5"/></g>
<g class="c11"><text x="1330" y="900">Republic of Korea</text><circle cx="1340" cy="880" r="5"/></g>
<g class="c9"><text x="290" y="932">Niger</text><circle cx="337" cy="948" r="5"/></g>
<g class="c2"><text x="398" y="942">Chad</text><circle cx="440" cy="957" r="5"/></g>
<g class="c5"><text x="525" y="930">Guinea</text><circle cx="578" cy="945" r="5"/></g>
<g class="c2"><text x="620" y="930">Benin</text><circle cx="633" cy="945" r="5"/></g>
<g class="c13"><text x="700" y="930">Zimbabwe</text><circle cx="778" cy="968" r="5"/></g>
<g class="c2"><text x="830" y="928">Cabo Verde</text><circle cx="865" cy="945" r="5"/></g>
<g class="c5"><text x="905" y="920">Eswatini</text></g>
<g class="c2"><text x="993" y="918">Brazil</text><circle cx="1035" cy="936" r="5"/></g>
<g class="c6"><text x="1047" y="925">Equatorial Guinea</text><circle cx="1115" cy="938" r="5"/></g>
<g class="c6"><text x="1200" y="925">Indonesia</text><path d="M1200 925L1120 990"/><circle cx="1120" cy="990" r="5"/></g>
<g class="c13"><text x="1308" y="938">Singapore</text><circle cx="1355" cy="885" r="5"/></g>
<g class="c2"><text x="1242" y="940">Costa Rica</text><path d="M1242 936L1205 985"/><circle cx="1205" cy="985" r="5"/></g>
<g class="c11"><text x="1440" y="975">Qatar</text><path d="M1440 970L1358 870"/><circle cx="1358" cy="870" r="5"/></g>
<g class="c9"><text x="345" y="975">Mali</text><path d="M380 970L602 968"/><circle cx="602" cy="968" r="5"/></g>
<g class="c14"><text x="495" y="970">Senegal</text><circle cx="633" cy="955" r="5"/></g>
<g class="c2"><text x="628" y="975">Angola</text><circle cx="712" cy="957" r="5"/></g>
<g class="c6"><text x="780" y="970">Lesotho</text><circle cx="823" cy="942" r="5"/></g>
<g class="c9"><text x="872" y="970">India</text><circle cx="920" cy="990" r="5"/></g>
<g class="c6"><text x="938" y="955">Namibia</text><circle cx="985" cy="962" r="5"/></g>
<g class="c2"><text x="1218" y="960">Cuba</text><circle cx="1190" cy="1000" r="5"/></g>
<g class="c3"><text x="1250" y="975">Brunei Darussalam</text><circle cx="1255" cy="1012" r="5"/></g>
<g class="c7"><text x="1428" y="1012">Kuwait</text><path d="M1428 1008L1338 900"/><circle cx="1338" cy="900" r="5"/></g>
<g class="c13"><text x="160" y="1000">Sierra Leone</text></g>
<g class="c3"><text x="168" y="1015">Central African Republic</text></g>
<g class="c6"><text x="680" y="995">Honduras</text><circle cx="760" cy="1013" r="5"/></g>
<g class="c2"><text x="1170" y="1000">Antigua and Barbuda</text><circle cx="1175" cy="1022" r="5"/></g>
<g class="c3"><text x="1325" y="1012">Bermuda</text><circle cx="1285" cy="1015" r="5"/></g>
<g class="c11"><text x="485" y="1043">Rwanda</text><circle cx="500" cy="1060" r="5"/></g>
<g class="c9"><text x="583" y="1043">Nepal</text><circle cx="720" cy="1045" r="5"/></g>
<g class="c5"><text x="660" y="1033">Haiti</text><circle cx="750" cy="1040" r="5"/></g>
<g class="c3"><text x="728" y="1033">Comoros</text><circle cx="800" cy="1050" r="5"/></g>
<g class="c3"><text x="787" y="1050">Djibouti</text></g>
<g class="c6"><text x="850" y="1050">Dominican Republic</text><circle cx="1030" cy="1030" r="5"/></g>
<g class="c9"><text x="1125" y="1050">Panama</text><circle cx="1165" cy="1065" r="5"/></g>
<g class="c2"><text x="280" y="1050">Burundi</text><circle cx="510" cy="1062" r="5"/></g>
<g class="c11"><text x="370" y="1050">Madagascar</text><circle cx="490" cy="1062" r="5"/></g>
<g class="c11"><text x="1050" y="1047">Saint Lucia</text><circle cx="1050" cy="1065" r="5"/></g>
<g class="c13"><text x="160" y="1088">Somalia</text><circle cx="205" cy="1062" r="5"/></g>
<g class="c14"><text x="350" y="1088">South Sudan</text><path d="M465 1085L565 1065"/><circle cx="565" cy="1065" r="5"/></g>
<g class="c9"><text x="488" y="1088">Malawi</text><path d="M540 1085L650 1052"/><circle cx="650" cy="1052" r="5"/></g>
<g class="c5"><text x="578" y="1080">Eritrea</text><circle cx="675" cy="1055" r="5"/></g>
<g class="c6"><text x="1202" y="1085">Malaysia</text><circle cx="1210" cy="1105" r="5"/></g>
<g class="c3"><text x="1270" y="1085">Dominica</text><circle cx="1255" cy="1105" r="5"/></g>
<g class="c2"><text x="1360" y="1085">Bahamas</text><path d="M1360 1082L1310 1040"/><circle cx="1310" cy="1040" r="5"/></g>
<g class="c11"><text x="1325" y="1122">Saint Kitts and Nevis</text><circle cx="1270" cy="1105" r="5"/></g>
<g class="c9"><text x="340" y="1125">Mozambique</text><path d="M460 1122L565 1065"/></g>
<g class="c13"><text x="480" y="1125">Uganda</text><path d="M550 1122L735 1052"/><circle cx="735" cy="1052" r="5"/></g>
<g class="c14"><text x="605" y="1112">Timor-Leste</text><circle cx="738" cy="1072" r="5"/></g>
<g class="c8"><text x="1100" y="1082">Maldives</text><circle cx="1110" cy="1072" r="5"/></g>
<g class="c5"><text x="1390" y="1160">Guam</text><path d="M1390 1156L1300 1120"/><circle cx="1300" cy="1120" r="5"/></g>
<g class="c6"><text x="570" y="1145">Lao People's Democratic Republic</text><path d="M700 1140L748 1085"/><circle cx="748" cy="1085" r="5"/></g>
<g class="c14"><text x="295" y="1163">United Republic of Tanzania</text><path d="M545 1160L735 1050"/></g>
<g class="c9"><text x="1140" y="1145">Northern Mariana Islands</text><circle cx="1185" cy="1120" r="5"/></g>
<g class="c5"><text x="1025" y="1098">Grenada</text><circle cx="1035" cy="1085" r="5"/></g>
<g class="c11"><text x="487" y="1185">Papua New Guinea</text><path d="M650 1180L710 1118"/><circle cx="710" cy="1118" r="5"/></g>
<g class="c14"><text x="688" y="1188">Vanuatu</text><path d="M750 1183L770 1110"/><circle cx="770" cy="1110" r="5"/></g>
<g class="c14"><text x="788" y="1188">Tuvalu</text><circle cx="820" cy="1122" r="5"/></g>
<g class="c2"><text x="822" y="1177">Bolivia (Plurinational State of)</text><circle cx="990" cy="1130" r="5"/></g>
<g class="c13"><text x="1063" y="1148">Tokelau</text><circle cx="1082" cy="1115" r="5"/></g>
<g class="c5"><text x="1085" y="1185">Fiji</text><circle cx="1070" cy="1115" r="5"/></g>
<g class="c9"><text x="1200" y="1185">Palau</text><circle cx="1180" cy="1120" r="5"/></g>
<g class="c3"><text x="1248" y="1183">Cook Islands</text><path d="M1248 1180L1220 1105"/><circle cx="1220" cy="1105" r="5"/></g>
<g class="c13"><text x="452" y="1222">Solomon Islands</text><path d="M600 1218L680 1118"/><circle cx="680" cy="1118" r="5"/></g>
<g class="c2"><text x="635" y="1225">Bangladesh</text><path d="M740 1220L780 1098"/><circle cx="780" cy="1098" r="5"/></g>
<g class="c11"><text x="868" y="1206">Samoa</text><circle cx="930" cy="1115" r="5"/></g>
<g class="c11"><text x="1012" y="1222">Peru</text><path d="M1030 1215L1000 1110"/><circle cx="1000" cy="1110" r="5"/></g>
<g class="c14"><text x="1085" y="1222">Thailand</text><path d="M1110 1215L1085 1110"/><circle cx="1085" cy="1110" r="5"/></g>
<g class="c3"><text x="1185" y="1233">China</text><path d="M1185 1228L1135 1170"/><circle cx="1135" cy="1170" r="5"/></g>
<g class="c13"><text x="1252" y="1240">Taiwan (Province of China)</text><circle cx="1357" cy="1213" r="5"/></g>
<g class="c9"><text x="755" y="1232">Marshall Islands</text><path d="M860 1228L855 1112"/><circle cx="855" cy="1112" r="5"/></g>
<g class="c3"><text x="922" y="1268">Democratic People's Republic of Korea</text><path d="M945 1255L918 1225"/><circle cx="918" cy="1225" r="5"/></g>
<g class="c5"><text x="535" y="1262">Ethiopia</text><circle cx="612" cy="1228" r="5"/></g>
<g class="c9"><text x="690" y="1270">Micronesia (Federated States of)</text><path d="M770 1262L820 1125"/><circle cx="820" cy="1125" r="5"/></g>
<g class="c3"><text x="1080" y="1270">Ecuador</text><path d="M1100 1262L1050 1125"/><circle cx="1050" cy="1125" r="5"/></g>
<g class="c9"><text x="1228" y="1270">Niue</text><path d="M1228 1262L1190 1120"/><circle cx="1190" cy="1120" r="5"/></g>
</g>
<path class="cv" d="M205 1012 C300 1000 400 995 500 1003 C600 1010 700 1005 800 1000 C860 990 920 982 960 980 C1000 975 1020 955 1040 940 C1080 915 1110 895 1140 860 C1170 810 1200 765 1240 730 C1280 708 1320 700 1360 703 C1400 712 1420 725 1443 740"/>
</g>
</svg>
</body></html>
